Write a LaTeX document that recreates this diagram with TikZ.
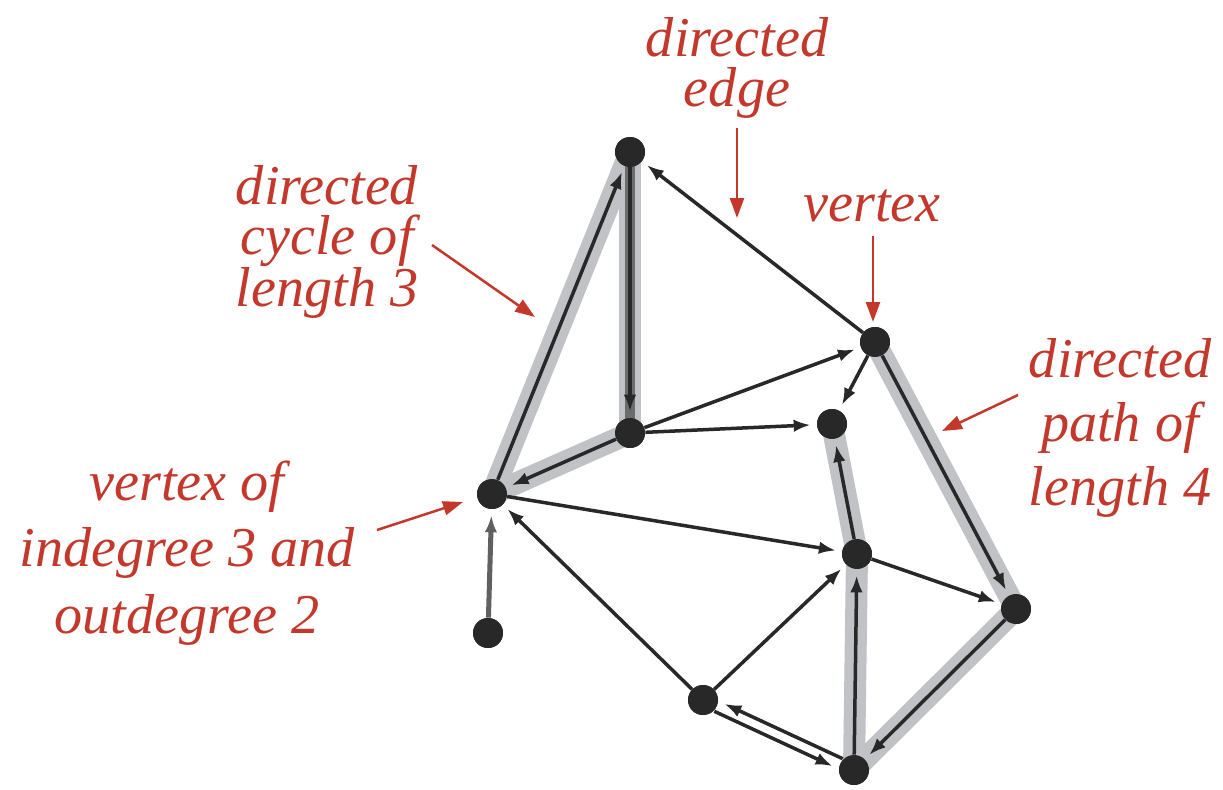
\documentclass[tikz,border=0pt]{standalone}
\usepackage{fontspec}
\setmainfont{Liberation Serif}
\usetikzlibrary{arrows.meta,calc}
\definecolor{lblred}{RGB}{196,56,44}
\definecolor{bandgray}{RGB}{192,194,198}
\definecolor{dotc}{RGB}{40,40,40}
\tikzset{
 vtx/.style={circle,fill=dotc,inner sep=0pt,minimum size=0.6cm},
 edgearr/.style={line width=0.07cm,draw=dotc,-{Latex[length=0.34cm,width=0.25cm]},shorten >=0.12cm},
 hl/.style={line width=0.44cm,draw=bandgray,line cap=round},
 lbltop/.style={text=lblred,font=\itshape\fontsize{32}{28.5}\selectfont,align=center,inner sep=0pt,anchor=base},
 lblpath/.style={text=lblred,font=\itshape\fontsize{32}{36.4}\selectfont,align=center,inner sep=0pt,anchor=base},
 lblvtx/.style={text=lblred,font=\itshape\fontsize{32}{37.6}\selectfont,align=center,inner sep=0pt,anchor=base},
 callout/.style={draw=lblred,line width=0.05cm,-{Triangle[length=0.4cm,width=0.28cm]}}
}
\begin{document}
\begin{tikzpicture}[x=0.02cm,y=-0.02cm]
\useasboundingbox (0,0) rectangle (1223,790);
% vertices
\node[vtx] (A) at (630,152) {};
\node[vtx] (B) at (875,342) {};
\node[vtx] (C) at (630,433) {};
\node[vtx] (D) at (832,424) {};
\node[vtx] (E) at (492,494) {};
\node[vtx] (F) at (857,554) {};
\node[vtx] (G) at (1016,609) {};
\node[vtx] (H) at (488,633) {};
\node[vtx] (I) at (703,700) {};
\node[vtx] (J) at (854,770) {};
% highlight bands
\draw[hl] (A.center) -- (C.center);
\draw[hl] (C.center) -- (E.center);
\draw[hl] (E.center) -- (A.center);
\draw[hl] (B.center) -- (G.center);
\draw[hl] (G.center) -- (J.center);
\draw[hl] (J.center) -- (F.center);
\draw[hl] (F.center) -- (D.center);
\draw[line width=0.2cm,draw=gray!85!black] (A.center) -- (C.center);
% edges
\draw[edgearr] (B) -- (A);
\draw[edgearr] (A) -- (C);
\draw[edgearr] (C) -- (E);
\draw[edgearr] (E) -- (A);
\draw[edgearr] (C) -- (B);
\draw[edgearr] (C) -- (D);
\draw[edgearr] (B) -- (D);
\draw[edgearr] (E) -- (F);
\draw[edgearr,draw=gray!75!black,line width=0.1cm] (H) -- (E);
\draw[edgearr] (I) -- (E);
\draw[edgearr] (I) -- (F);
\draw[edgearr] (F) -- (G);
\draw[edgearr] (B) -- (G);
\draw[edgearr] (G) -- (J);
\draw[edgearr] (J) -- (F);
\draw[edgearr] (F) -- (D);
\coordinate (IJa) at ($(I)!0.11cm!90:(J)$);
\coordinate (JIa) at ($(J)!0.11cm!-90:(I)$);
\coordinate (IJb) at ($(I)!0.11cm!-90:(J)$);
\coordinate (JIb) at ($(J)!0.11cm!90:(I)$);
\draw[edgearr,shorten <=0.3cm,shorten >=0.42cm] (JIa) -- (IJa);
\draw[edgearr,shorten <=0.3cm,shorten >=0.42cm] (IJb) -- (JIb);
% redraw vertices on top
\foreach \v in {A,B,C,D,E,F,G,H,I,J} \fill[dotc] (\v) circle (0.3cm);
% labels
\node[lbltop] (ledge) at (737,107) {directed\\edge};
\node[lbltop] (lvert) at (872,222) {vertex};
\node[lbltop] (lcyc) at (327,307) {directed\\cycle of\\length 3};
\node[lblpath] (lpath) at (1120,505) {directed\\path of\\length 4};
\node[lblvtx] (ldeg) at (187,633) {vertex of\\indegree 3 and\\outdegree 2};
% callouts
\coordinate (c1s) at (737,128); \coordinate (c1e) at (737,218);
\coordinate (c2s) at (873,236); \coordinate (c2e) at (873,322);
\coordinate (c3s) at (432,245); \coordinate (c3e) at (535,317);
\coordinate (c4s) at (1018,395); \coordinate (c4e) at (942,431);
\coordinate (c5s) at (377,530); \coordinate (c5e) at (463,502);
\draw[callout] (c1s) -- (c1e);
\draw[callout] (c2s) -- (c2e);
\draw[callout] (c3s) -- (c3e);
\draw[callout] (c4s) -- (c4e);
\draw[callout] (c5s) -- (c5e);
\end{tikzpicture}
\end{document}
